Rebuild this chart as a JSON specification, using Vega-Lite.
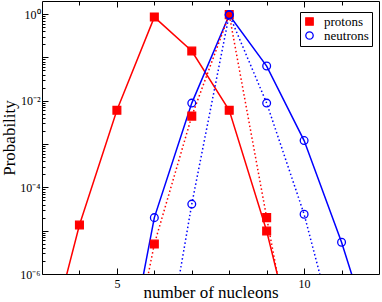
{
  "$schema": "https://vega.github.io/schema/vega-lite/v6.json",
  "width": 337,
  "height": 273,
  "autosize": "none",
  "padding": {"left": 42, "top": 1, "right": 3, "bottom": 28},
  "config": {
    "font": "Liberation Serif",
    "view": {"stroke": "black", "strokeWidth": 1},
    "axis": {"domain": false, "grid": false, "tickColor": "black", "tickWidth": 1, "labelColor": "black", "titleColor": "black", "labelFont": "Liberation Serif", "titleFont": "Liberation Serif", "titleFontWeight": "normal", "labelFontSize": 12, "titleFontSize": 17}
  },
  "datasets": {
    "curves": [
      {"series": "protons", "style": "solid", "n": 3, "p": 6e-9},
      {"series": "protons", "style": "solid", "n": 4, "p": 1.35e-5},
      {"series": "protons", "style": "solid", "n": 5, "p": 6e-3},
      {"series": "protons", "style": "solid", "n": 6, "p": 0.85},
      {"series": "protons", "style": "solid", "n": 7, "p": 0.14},
      {"series": "protons", "style": "solid", "n": 8, "p": 6e-3},
      {"series": "protons", "style": "solid", "n": 9, "p": 9.8e-6},
      {"series": "protons", "style": "solid", "n": 10, "p": 3e-9},
      {"series": "protons", "style": "dotted", "n": 5, "p": 2.5e-10},
      {"series": "protons", "style": "dotted", "n": 6, "p": 4.9e-6},
      {"series": "protons", "style": "dotted", "n": 7, "p": 4.4e-3},
      {"series": "protons", "style": "dotted", "n": 8, "p": 0.97},
      {"series": "protons", "style": "dotted", "n": 9, "p": 2.0e-5},
      {"series": "protons", "style": "dotted", "n": 10, "p": 5e-10},
      {"series": "neutrons", "style": "solid", "n": 5, "p": 6e-10},
      {"series": "neutrons", "style": "solid", "n": 6, "p": 2.0e-5},
      {"series": "neutrons", "style": "solid", "n": 7, "p": 8.8e-3},
      {"series": "neutrons", "style": "solid", "n": 8, "p": 0.95},
      {"series": "neutrons", "style": "solid", "n": 9, "p": 0.063},
      {"series": "neutrons", "style": "solid", "n": 10, "p": 1.2e-3},
      {"series": "neutrons", "style": "solid", "n": 11, "p": 5.4e-6},
      {"series": "neutrons", "style": "solid", "n": 12, "p": 1e-8},
      {"series": "neutrons", "style": "dotted", "n": 6, "p": 4e-10},
      {"series": "neutrons", "style": "dotted", "n": 7, "p": 4.1e-5},
      {"series": "neutrons", "style": "dotted", "n": 8, "p": 0.97},
      {"series": "neutrons", "style": "dotted", "n": 9, "p": 8.8e-3},
      {"series": "neutrons", "style": "dotted", "n": 10, "p": 2.4e-5},
      {"series": "neutrons", "style": "dotted", "n": 11, "p": 1.2e-8}
    ]
  },
  "layer": [
    {
      "data": {"name": "curves"},
      "transform": [{"filter": "datum.series == 'protons' && datum.style == 'solid'"}],
      "mark": {"type": "line", "color": "#ff0000", "strokeWidth": 1.5, "clip": true},
      "encoding": {
        "x": {"field": "n", "type": "quantitative", "scale": {"domain": [3, 12], "nice": false, "zero": false},
              "axis": {"orient": "bottom", "values": [5, 10], "tickSize": -6, "labelPadding": 10, "format": "d", "title": "number of nucleons", "titlePadding": -5}},
        "y": {"field": "p", "type": "quantitative", "scale": {"type": "log", "domain": [1e-6, 2], "nice": false},
              "axis": {"orient": "left", "values": [1e-6, 1e-5, 1e-4, 1e-3, 1e-2, 1e-1, 1], "tickSize": -6, "labelPadding": 8,
                       "labelExpr": "round(log(datum.value)/LN10) == 0 ? '10⁰' : round(log(datum.value)/LN10) == -2 ? '10⁻²' : round(log(datum.value)/LN10) == -4 ? '10⁻⁴' : round(log(datum.value)/LN10) == -6 ? '10⁻⁶' : ''",
                       "title": "Probability", "titlePadding": 1}}
      }
    },
    {
      "data": {"name": "curves"},
      "transform": [{"filter": "datum.series == 'neutrons' && datum.style == 'solid'"}],
      "mark": {"type": "line", "color": "#0000ff", "strokeWidth": 1.5, "clip": true},
      "encoding": {
        "x": {"field": "n", "type": "quantitative",
              "axis": {"orient": "bottom", "values": [4, 6, 7, 8, 9, 11], "tickSize": -4, "labels": false, "title": null}},
        "y": {"field": "p", "type": "quantitative",
              "axis": {"orient": "left", "values": [2e-6,3e-6,4e-6,5e-6,6e-6,7e-6,8e-6,9e-6,2e-5,3e-5,4e-5,5e-5,6e-5,7e-5,8e-5,9e-5,2e-4,3e-4,4e-4,5e-4,6e-4,7e-4,8e-4,9e-4,2e-3,3e-3,4e-3,5e-3,6e-3,7e-3,8e-3,9e-3,2e-2,3e-2,4e-2,5e-2,6e-2,7e-2,8e-2,9e-2,0.2,0.3,0.4,0.5,0.6,0.7,0.8,0.9], "tickSize": -3, "labels": false, "title": null}}
      }
    },
    {
      "data": {"name": "curves"},
      "transform": [{"filter": "datum.series == 'protons' && datum.style == 'dotted'"}],
      "mark": {"type": "line", "color": "#ff0000", "strokeWidth": 1.5, "strokeDash": [1.5, 2.5], "clip": true},
      "encoding": {
        "x": {"field": "n", "type": "quantitative",
              "axis": {"orient": "top", "values": [5, 10], "tickSize": -6, "labels": false, "title": null}},
        "y": {"field": "p", "type": "quantitative", "axis": null}
      }
    },
    {
      "data": {"name": "curves"},
      "transform": [{"filter": "datum.series == 'neutrons' && datum.style == 'dotted'"}],
      "mark": {"type": "line", "color": "#0000ff", "strokeWidth": 1.5, "strokeDash": [1.5, 2.5], "clip": true},
      "encoding": {
        "x": {"field": "n", "type": "quantitative",
              "axis": {"orient": "top", "values": [4, 6, 7, 8, 9, 11], "tickSize": -4, "labels": false, "title": null}},
        "y": {"field": "p", "type": "quantitative", "axis": null}
      }
    },
    {
      "data": {"name": "curves"},
      "transform": [{"filter": "datum.p >= 1e-6"}],
      "mark": {"type": "point", "size": 60, "strokeWidth": 1.3, "opacity": 1, "clip": true},
      "encoding": {
        "x": {"field": "n", "type": "quantitative", "axis": null},
        "y": {"field": "p", "type": "quantitative", "axis": null},
        "shape": {"field": "series", "type": "nominal", "scale": {"domain": ["protons", "neutrons"], "range": ["square", "circle"]},
                  "legend": {"title": null, "orient": "none", "legendX": 258, "legendY": 11, "strokeColor": "black", "fillColor": "white", "padding": 3, "labelFontSize": 13, "labelFont": "Liberation Serif", "labelColor": "black", "symbolSize": 55, "symbolStrokeWidth": 1.3, "rowPadding": 0, "labelOffset": 8}},
        "fill": {"field": "series", "type": "nominal", "scale": {"domain": ["protons", "neutrons"], "range": ["#ff0000", "transparent"]},
                 "legend": {"title": null, "orient": "none", "legendX": 258, "legendY": 11, "strokeColor": "black", "fillColor": "white", "padding": 3, "labelFontSize": 13, "labelFont": "Liberation Serif", "labelColor": "black", "symbolSize": 55, "symbolStrokeWidth": 1.3, "rowPadding": 0, "labelOffset": 8}},
        "stroke": {"field": "series", "type": "nominal", "scale": {"domain": ["protons", "neutrons"], "range": ["#ff0000", "#0000ff"]},
                   "legend": {"title": null, "orient": "none", "legendX": 258, "legendY": 11, "strokeColor": "black", "fillColor": "white", "padding": 3, "labelFontSize": 13, "labelFont": "Liberation Serif", "labelColor": "black", "symbolSize": 55, "symbolStrokeWidth": 1.3, "rowPadding": 0, "labelOffset": 8}}
      }
    }
  ],
  "resolve": {"axis": {"x": "independent", "y": "independent"}}
}
